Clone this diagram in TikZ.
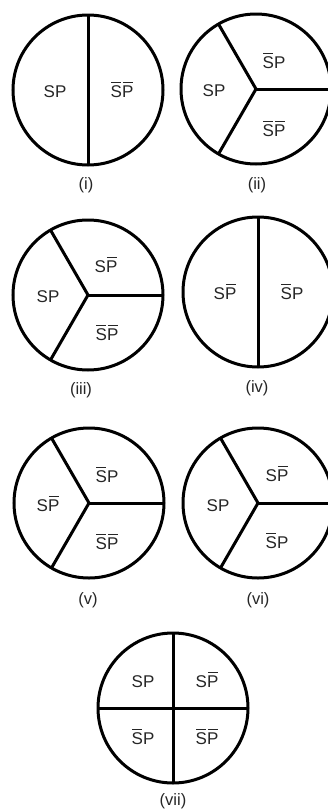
\documentclass[tikz,border=0pt]{standalone}
\usepackage{fontspec}
\setmainfont{Liberation Sans}
\newcommand\ob[1]{\setbox0\hbox{#1}\vbox{\offinterlineskip\hbox to\wd0{\hss\vrule width\dimexpr\wd0-1.6pt\relax height 1.6pt depth 0pt\hss}\kern1.9pt\box0}}
\begin{document}
\begin{tikzpicture}[x=1pt,y=-1pt,
  disc/.style={circle,draw,line width=3pt,minimum size=150pt,inner sep=0pt,outer sep=0pt},
  spoke/.style={line width=3pt},
  lab/.style={anchor=base,inner sep=0pt,text=black!85,font=\fontsize{17}{20}\selectfont},
  figlab/.style={inner sep=0pt,text=black!85,font=\fontsize{16.5}{20}\selectfont}]
\useasboundingbox (0,0) rectangle (328,809);
% (i)
\node[disc] (c1) at (88,90) {};
\draw[spoke] (c1.north) -- (c1.south);
\node[lab] (t1a) at (55,97) {SP};
\node[lab] (t1b) at (122,97) {\ob{S}\ob{P}};
\node[figlab] (l1) at (86,185) {(i)};
% (ii)
\node[disc] (c2) at (256,89) {};
\draw[spoke] (c2.center) -- (c2.120);
\draw[spoke] (c2.center) -- (c2.240);
\draw[spoke] (c2.center) -- (c2.0);
\node[lab] (t2a) at (214,96) {SP};
\node[lab] (t2b) at (274,68) {\ob{S}P};
\node[lab] (t2c) at (274,136) {\ob{S}\ob{P}};
\node[figlab] (l2) at (257,185) {(ii)};
% (iii)
\node[disc] (c3) at (88,295) {};
\draw[spoke] (c3.center) -- (c3.120);
\draw[spoke] (c3.center) -- (c3.240);
\draw[spoke] (c3.center) -- (c3.0);
\node[lab] (t3a) at (48,302) {SP};
\node[lab] (t3b) at (106,272) {S\ob{P}};
\node[lab] (t3c) at (107,340) {\ob{S}\ob{P}};
\node[figlab] (l3) at (81,390) {(iii)};
% (iv)
\node[disc] (c4) at (258,292) {};
\draw[spoke] (c4.north) -- (c4.south);
\node[lab] (t4a) at (225,299) {S\ob{P}};
\node[lab] (t4b) at (292,299) {\ob{S}P};
\node[figlab] (l4) at (257,388) {(iv)};
% (v)
\node[disc] (c5) at (89,503) {};
\draw[spoke] (c5.center) -- (c5.120);
\draw[spoke] (c5.center) -- (c5.240);
\draw[spoke] (c5.center) -- (c5.0);
\node[lab] (t5a) at (48,511) {S\ob{P}};
\node[lab] (t5b) at (107,482) {\ob{S}P};
\node[lab] (t5c) at (107,549) {\ob{S}\ob{P}};
\node[figlab] (l5) at (88,600) {(v)};
% (vi)
\node[disc] (c6) at (258,503) {};
\draw[spoke] (c6.center) -- (c6.120);
\draw[spoke] (c6.center) -- (c6.240);
\draw[spoke] (c6.center) -- (c6.0);
\node[lab] (t6a) at (218,511) {SP};
\node[lab] (t6b) at (277,481) {S\ob{P}};
\node[lab] (t6c) at (277,548) {\ob{S}P};
\node[figlab] (l6) at (258,600) {(vi)};
% (vii)
\node[disc] (c7) at (173,708) {};
\draw[spoke] (c7.north) -- (c7.south);
\draw[spoke] (c7.west) -- (c7.east);
\node[lab] (t7a) at (143,687) {SP};
\node[lab] (t7b) at (207,687) {S\ob{P}};
\node[lab] (t7c) at (143,744) {\ob{S}P};
\node[lab] (t7d) at (207,744) {\ob{S}\ob{P}};
\node[figlab] (l7) at (173,801) {(vii)};
\end{tikzpicture}
\end{document}
